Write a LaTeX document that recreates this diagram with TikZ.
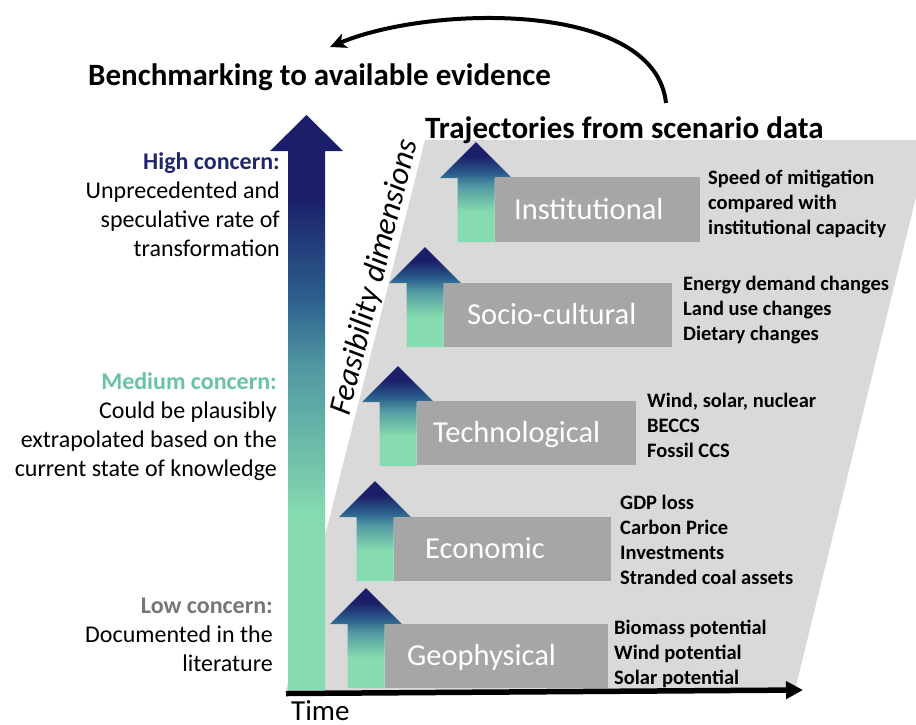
\documentclass[tikz,border=0pt]{standalone}
\usepackage{fontspec}
\setmainfont{Carlito}
\usetikzlibrary{arrows.meta}

\definecolor{navyc}{RGB}{27,30,105}
\definecolor{bluec}{RGB}{44,96,142}
\definecolor{tealc}{RGB}{82,152,162}
\definecolor{mintc}{RGB}{134,220,176}
\definecolor{panelgray}{RGB}{217,217,217}
\definecolor{boxgray}{RGB}{166,166,166}
\definecolor{highc}{RGB}{32,38,110}
\definecolor{mediumc}{RGB}{104,194,168}
\definecolor{lowc}{RGB}{118,118,118}

\pgfdeclareverticalshading{concernfade}{100bp}{color(0bp)=(mintc); color(40bp)=(mintc);
  color(53bp)=(tealc); color(59bp)=(bluec); color(68bp)=(navyc); color(100bp)=(navyc)}

\tikzset{
  concerntext/.style={anchor=north east, align=right, inner sep=0pt, font=\fontsize{24}{29}\selectfont},
  dimbox/.style={fill=boxgray, anchor=north west, inner sep=0pt},
  dimlabel/.style={anchor=west, inner sep=0pt, text=white, text height=21pt, text depth=6pt, font=\fontsize{30.5}{36}\selectfont},
  itemlist/.style={anchor=north west, align=left, inner sep=0pt, font=\bfseries\fontsize{20.5}{25}\selectfont},
  headline/.style={anchor=base west, inner sep=0pt, font=\bfseries\fontsize{31}{36}\selectfont},
}

% small shaded arrow: tip x, tip y
\newcommand{\dimarrow}[2]{%
  \shade[shading=concernfade] (#1-18.5,#2+100) -- (#1-18.5,#2+36) -- (#1-36,#2+36) -- (#1,#2)
    -- (#1+36,#2+36) -- (#1+18.5,#2+36) -- (#1+18.5,#2+100) -- cycle;}

\begin{document}
\begin{tikzpicture}[x=1pt,y=-1pt]
\useasboundingbox (0,0) rectangle (916,724);

% scenario panel
\fill[panelgray] (425,140) -- (916,140) -- (916,197) -- (795,690) -- (286,690) -- cycle;

% concern arrow
\shade[shading=concernfade] (288,690) -- (288,151) -- (270,151) -- (306.5,115) -- (343,151)
  -- (325,151) -- (325,690) -- cycle;

\coordinate (timestart) at (286,693.5);
\coordinate (timeend) at (803,690);
\draw[line width=5.5pt, -{Triangle[length=17pt,width=17pt]}] (timestart) -- (timeend);
\node[anchor=base west, inner sep=0pt, font=\fontsize{29}{34}\selectfont] (time) at (291,720) {Time};

% loop back to the evidence
\coordinate (loopstart) at (666,103);
\coordinate (loopend) at (330,47);
\draw[line width=4pt, -{Stealth[length=16pt,width=15pt,inset=4pt]}] (loopstart) .. controls (655,0) and (430,5) .. (loopend);

\node[headline] (bench) at (88,85) {Benchmarking to available evidence};
\node[headline] (traject) at (425,138) {Trajectories from scenario data};
\node[rotate=76, inner sep=0pt, font=\itshape\fontsize{32}{38}\selectfont] (feasible) at (375,277) {Feasibility dimensions};

% concern levels
\node[concerntext] (high) at (280,152.5) {{\bfseries\color{highc}High concern:}\\Unprecedented and\\speculative rate of\\transformation};
\node[concerntext] (medium) at (277,372.5) {{\bfseries\color{mediumc}Medium concern:}\\Could be plausibly\\extrapolated based on the\\current state of knowledge};
\node[concerntext] (low) at (273,597.5) {{\bfseries\color{lowc}Low concern:}\\Documented in the\\literature};

% dimensions
\dimarrow{476}{142}
\dimarrow{425}{247}
\dimarrow{398}{366}
\dimarrow{375}{481}
\dimarrow{366}{588}

\node[dimbox, minimum width=205pt, minimum height=65pt] (instbox) at (494.5,177) {};
\node[dimbox, minimum width=228pt, minimum height=64pt] (sociobox) at (443.5,283) {};
\node[dimbox, minimum width=219pt, minimum height=64pt] (techbox) at (416.5,401) {};
\node[dimbox, minimum width=217pt, minimum height=64pt] (econbox) at (393.5,517) {};
\node[dimbox, minimum width=223pt, minimum height=64pt] (geobox) at (384.5,624) {};

\node[dimlabel] (instlabel) at (514,212) {Institutional};
\node[dimlabel] (sociolabel) at (467,317) {Socio-cultural};
\node[dimlabel] (techlabel) at (433,435) {Technological};
\node[dimlabel] (econlabel) at (425,551) {Economic};
\node[dimlabel] (geolabel) at (407,658) {Geophysical};

\node[itemlist] (instlist) at (708,170) {Speed of mitigation\\compared with\\institutional capacity};
\node[itemlist] (sociolist) at (683,276) {Energy demand changes\\Land use changes\\Dietary changes};
\node[itemlist] (techlist) at (647,393) {Wind, solar, nuclear\\BECCS\\Fossil CCS};
\node[itemlist] (econlist) at (620,495) {GDP loss\\Carbon Price\\Investments\\Stranded coal assets};
\node[itemlist] (geolist) at (614,620) {Biomass potential\\Wind potential\\Solar potential};

\end{tikzpicture}
\end{document}
